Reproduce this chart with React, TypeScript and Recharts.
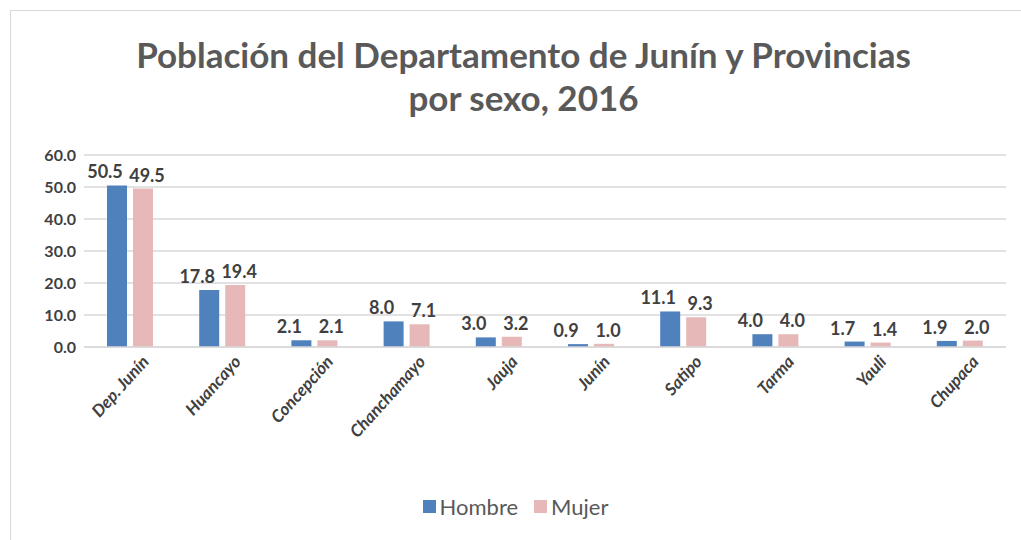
import { BarChart, Bar, XAxis, YAxis, CartesianGrid, LabelList } from 'recharts';

const categories = [
  'Dep. Junín',
  'Huancayo',
  'Concepción',
  'Chanchamayo',
  'Jauja',
  'Junín',
  'Satipo',
  'Tarma',
  'Yauli',
  'Chupaca',
];
const hombre = [50.5, 17.8, 2.1, 8.0, 3.0, 0.9, 11.1, 4.0, 1.7, 1.9];
const mujer = [49.5, 19.4, 2.1, 7.1, 3.2, 1.0, 9.3, 4.0, 1.4, 2.0];
const yTicks = [0, 10, 20, 30, 40, 50, 60];

const BLUE = '#4F81BD';
const PINK = '#E6B9B8';
const TEXT = '#404040';
const FONT = 'Lato, "Open Sans", sans-serif';

const data = categories.map((name, i) => ({ name, hombre: hombre[i], mujer: mujer[i] }));

function XTick({ x, y, payload }: { x?: number; y?: number; payload?: { value: string } }) {
  return (
    <g transform={`translate(${(x ?? 0) + 16},${(y ?? 0) + 4})`}>
      <text
        transform="rotate(-48)"
        textAnchor="end"
        dy={5}
        fontSize={17}
        fontWeight="bold"
        fontStyle="italic"
        fill={TEXT}
        fontFamily={FONT}
      >
        {payload?.value}
      </text>
    </g>
  );
}

function makeLabel(dx: number) {
  return function BarLabel(props: any) {
    const { x, y, width, value } = props;
    return (
      <text
        x={x + width / 2 + dx}
        y={y - 7}
        textAnchor="middle"
        fontSize={18}
        fontWeight="bold"
        fill={TEXT}
        fontFamily={FONT}
      >
        {Number(value).toFixed(1)}
      </text>
    );
  };
}

export default function App() {
  return (
    <div style={{ position: 'absolute', left: 0, top: 0, width: 1021, height: 540, background: '#fff', fontFamily: FONT }}>
      <div
        style={{
          position: 'absolute',
          left: 10,
          top: 10,
          width: 1020,
          height: 540,
          border: '1px solid #d9d9d9',
          boxSizing: 'border-box',
        }}
      />
      <div
        style={{
          position: 'absolute',
          left: 18,
          width: 1011,
          top: 33,
          textAlign: 'center',
          color: '#595959',
          fontSize: 35,
          fontWeight: 'bold',
          lineHeight: '43px',
        }}
      >
        Población del Departamento de Junín y Provincias
        <br />
        por sexo, 2016
      </div>
      <div style={{ position: 'absolute', left: 0, top: 0 }}>
        <BarChart
          width={1021}
          height={540}
          data={data}
          margin={{ top: 155, right: 15, bottom: 73, left: 14 }}
          barCategoryGap="25%"
          barGap={6}
        >
          <CartesianGrid vertical={false} stroke="#d9d9d9" strokeWidth={1.5} />
          <XAxis
            dataKey="name"
            interval={0}
            height={120}
            tickLine={false}
            axisLine={{ stroke: '#d9d9d9', strokeWidth: 1.5 }}
            tick={<XTick />}
          />
          <YAxis
            width={70}
            domain={[0, 60]}
            ticks={yTicks}
            axisLine={false}
            tickLine={false}
            tickFormatter={(v: number) => v.toFixed(1)}
            tick={{ fontSize: 16, fontWeight: 'bold', fill: TEXT, fontFamily: FONT }}
          />
          <Bar dataKey="hombre" fill={BLUE} barSize={20} isAnimationActive={false}>
            <LabelList dataKey="hombre" content={makeLabel(-12)} />
          </Bar>
          <Bar dataKey="mujer" fill={PINK} barSize={20} isAnimationActive={false}>
            <LabelList dataKey="mujer" content={makeLabel(4)} />
          </Bar>
        </BarChart>
      </div>
      <div
        style={{
          position: 'absolute',
          left: 10,
          width: 1011,
          top: 493,
          display: 'flex',
          justifyContent: 'center',
          alignItems: 'center',
          gap: 16,
          fontSize: 22,
          color: '#595959',
        }}
      >
        <span style={{ display: 'flex', alignItems: 'center', gap: 4 }}>
          <span style={{ width: 13, height: 13, background: BLUE, display: 'inline-block' }} />
          Hombre
        </span>
        <span style={{ display: 'flex', alignItems: 'center', gap: 4 }}>
          <span style={{ width: 13, height: 13, background: PINK, display: 'inline-block' }} />
          Mujer
        </span>
      </div>
    </div>
  );
}
